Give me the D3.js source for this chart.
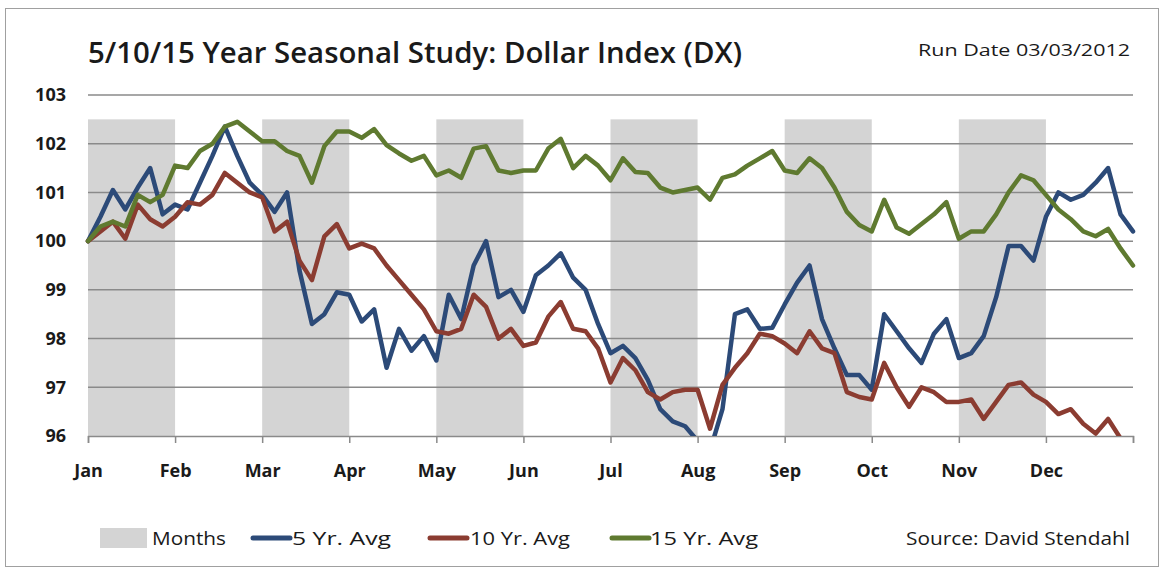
<!DOCTYPE html>
<html>
<head>
<meta charset="utf-8">
<script src="https://cdn.jsdelivr.net/npm/d3@7"></script>
<style>
body { margin: 0; background: #fff; }
text { font-family: "Open Sans", "Liberation Sans", sans-serif; fill: #1a1a1a; }
</style>
</head>
<body>
<svg id="chart" width="1164" height="571"></svg>
<script>
//month labels along the x axis
var months = ['Jan','Feb','Mar','Apr','May','Jun','Jul','Aug','Sep','Oct','Nov','Dec'];

//gray "Months" columns, every other month
var monthBars = [102.5, 0, 102.5, 0, 102.5, 0, 102.5, 0, 102.5, 0, 102.5, 0];

//y axis ticks
var yTicks = [96, 97, 98, 99, 100, 101, 102, 103];

//trading day of each point (21 trading days per month)
var days = d3.range(0, 253, 3);

//5 year average
var avg5 = [100.0, 100.5, 101.05, 100.65, 101.1, 101.5, 100.55, 100.75, 100.65, 101.2,
  101.75, 102.35, 101.75, 101.2, 100.95, 100.6, 101.0, 99.4, 98.3, 98.5,
  98.95, 98.9, 98.35, 98.6, 97.4, 98.2, 97.75, 98.05, 97.55, 98.9,
  98.4, 99.5, 100.0, 98.85, 99.0, 98.55, 99.3, 99.5, 99.75, 99.25,
  99.0, 98.3, 97.7, 97.85, 97.6, 97.15, 96.55, 96.3, 96.2, 95.9,
  95.7, 96.55, 98.5, 98.6, 98.2, 98.22, 98.7, 99.15, 99.5, 98.4,
  97.8, 97.25, 97.25, 96.95, 98.5, 98.15, 97.8, 97.5, 98.1, 98.4,
  97.6, 97.7, 98.05, 98.85, 99.9, 99.9, 99.6, 100.5, 101.0, 100.85,
  100.95, 101.2, 101.5, 100.55, 100.2];

//10 year average
var avg10 = [100.0, 100.2, 100.4, 100.05, 100.75, 100.45, 100.3, 100.5, 100.8, 100.75,
  100.95, 101.4, 101.2, 101.0, 100.9, 100.2, 100.4, 99.6, 99.2, 100.1,
  100.35, 99.85, 99.95, 99.85, 99.5, 99.2, 98.9, 98.6, 98.15, 98.1,
  98.2, 98.9, 98.65, 98.0, 98.2, 97.85, 97.92, 98.45, 98.75, 98.2,
  98.15, 97.8, 97.1, 97.6, 97.35, 96.9, 96.75, 96.9, 96.95, 96.95,
  96.15, 97.05, 97.4, 97.7, 98.1, 98.05, 97.9, 97.7, 98.15, 97.8,
  97.7, 96.9, 96.8, 96.75, 97.5, 97.0, 96.6, 97.0, 96.9, 96.7,
  96.7, 96.75, 96.35, 96.7, 97.05, 97.1, 96.85, 96.7, 96.45, 96.55,
  96.25, 96.05, 96.35, 95.95, 95.8];

//15 year average
var avg15 = [100.0, 100.3, 100.4, 100.3, 100.95, 100.8, 100.95, 101.55, 101.5, 101.85,
  102.0, 102.35, 102.45, 102.25, 102.05, 102.05, 101.85, 101.75, 101.2, 101.95,
  102.25, 102.25, 102.12, 102.3, 101.97, 101.8, 101.65, 101.75, 101.35, 101.45,
  101.3, 101.9, 101.95, 101.45, 101.4, 101.45, 101.45, 101.9, 102.1, 101.5,
  101.75, 101.55, 101.25, 101.7, 101.42, 101.4, 101.1, 101.0, 101.05, 101.1,
  100.85, 101.3, 101.37, 101.55, 101.7, 101.85, 101.45, 101.4, 101.7, 101.5,
  101.1, 100.6, 100.33, 100.2, 100.85, 100.28, 100.15, 100.35, 100.55, 100.8,
  100.05, 100.2, 100.2, 100.55, 101.0, 101.35, 101.25, 100.95, 100.65, 100.45,
  100.2, 100.1, 100.25, 99.85, 99.5];

var series = [
  {name: '5 Yr. Avg', values: avg5, color: '#2c4a78'},
  {name: '10 Yr. Avg', values: avg10, color: '#8b3c31'},
  {name: '15 Yr. Avg', values: avg15, color: '#5f7a30'}
];

var svg = d3.select('#chart');

var plotLeft = 88, plotRight = 1133, plotTop = 95, plotBottom = 436;

var x = d3.scaleLinear().domain([0, 252]).range([plotLeft, plotRight]);
var y = d3.scaleLinear().domain([96, 103]).range([plotBottom, plotTop]);
var monthWidth = x(21) - x(0);

//outer frame
svg.append('rect')
  .attr('x', 5.5).attr('y', 8.5)
  .attr('width', 1153).attr('height', 558)
  .attr('fill', 'none').attr('stroke', '#a0a0a0').attr('stroke-width', 1);

//month columns
svg.append('g').selectAll('rect')
  .data(monthBars)
  .enter().append('rect')
  .attr('x', function(d, i) { return x(i * 21); })
  .attr('width', monthWidth)
  .attr('y', function(d) { return d > 0 ? y(d) : plotBottom; })
  .attr('height', function(d) { return d > 0 ? plotBottom - y(d) : 0; })
  .attr('fill', '#d4d4d4');

//gridlines
svg.append('g').selectAll('line')
  .data(yTicks.slice(1))
  .enter().append('line')
  .attr('x1', plotLeft).attr('x2', plotRight)
  .attr('y1', function(d) { return y(d); })
  .attr('y2', function(d) { return y(d); })
  .attr('stroke', '#8a8a8a').attr('stroke-width', 1.5);

//y axis labels
var yAxis = svg.append('g')
  .attr('transform', 'translate(' + (plotLeft - 22) + ',0)')
  .call(d3.axisLeft(y).tickValues(yTicks).tickSize(0).tickPadding(0)
    .tickFormat(d3.format('d')));
yAxis.select('.domain').remove();
yAxis.selectAll('text')
  .attr('font-size', 18).attr('font-weight', 'bold')
  .attr('font-family', '"Open Sans", sans-serif')
  .attr('fill', '#1a1a1a');

//x axis with ticks at each month start
var xAxis = svg.append('g')
  .attr('transform', 'translate(0,' + plotBottom + ')')
  .call(d3.axisBottom(x)
    .tickValues(d3.range(0, 253, 21))
    .tickSize(7)
    .tickFormat(function(d) { return months[d / 21] || ''; }));
xAxis.select('.domain').attr('stroke', '#8a8a8a').attr('stroke-width', 1.5);
xAxis.selectAll('line').attr('stroke', '#8a8a8a').attr('stroke-width', 1.5);
xAxis.selectAll('text')
  .attr('y', 28)
  .attr('font-size', 18).attr('font-weight', 'bold')
  .attr('font-family', '"Open Sans", sans-serif')
  .attr('fill', '#1a1a1a');

//clip the lines to the plot area
svg.append('clipPath').attr('id', 'plotClip')
  .append('rect')
  .attr('x', plotLeft - 5).attr('y', plotTop - 5)
  .attr('width', plotRight - plotLeft + 10).attr('height', plotBottom - plotTop + 5);

var line = d3.line()
  .x(function(d, i) { return x(days[i]); })
  .y(function(d) { return y(d); });

svg.append('g').attr('clip-path', 'url(#plotClip)')
  .selectAll('path')
  .data(series)
  .enter().append('path')
  .attr('d', function(d) { return line(d.values); })
  .attr('fill', 'none')
  .attr('stroke', function(d) { return d.color; })
  .attr('stroke-width', 4.5)
  .attr('stroke-linejoin', 'round')
  .attr('stroke-linecap', 'round');

//title and run date
svg.append('text')
  .attr('x', 88).attr('y', 63)
  .attr('font-size', 29).attr('font-weight', 600)
  .attr('textLength', 654).attr('lengthAdjust', 'spacingAndGlyphs')
  .text('5/10/15 Year Seasonal Study: Dollar Index (DX)');

svg.append('text')
  .attr('x', 918).attr('y', 56)
  .attr('font-size', 17)
  .attr('textLength', 212).attr('lengthAdjust', 'spacingAndGlyphs')
  .text('Run Date  03/03/2012');

//legend
var legendY = 538;
svg.append('rect')
  .attr('x', 100).attr('y', legendY - 10)
  .attr('width', 47).attr('height', 20)
  .attr('fill', '#d4d4d4');
svg.append('text')
  .attr('x', 152).attr('y', legendY + 7)
  .attr('font-size', 18)
  .attr('textLength', 74).attr('lengthAdjust', 'spacingAndGlyphs')
  .text('Months');

var legendPos = [
  {x1: 253, tx: 292, tw: 99},
  {x1: 430, tx: 470, tw: 100},
  {x1: 612, tx: 650, tw: 108}
];

series.forEach(function(s, i) {
  var p = legendPos[i];
  svg.append('line')
    .attr('x1', p.x1).attr('x2', p.x1 + 37)
    .attr('y1', legendY).attr('y2', legendY)
    .attr('stroke', s.color).attr('stroke-width', 5)
    .attr('stroke-linecap', 'round');
  svg.append('text')
    .attr('x', p.tx).attr('y', legendY + 7)
    .attr('font-size', 18)
    .attr('textLength', p.tw).attr('lengthAdjust', 'spacingAndGlyphs')
    .text(s.name);
});

svg.append('text')
  .attr('x', 906).attr('y', legendY + 7)
  .attr('font-size', 18)
  .attr('textLength', 224).attr('lengthAdjust', 'spacingAndGlyphs')
  .text('Source: David Stendahl');
</script>
</body>
</html>
